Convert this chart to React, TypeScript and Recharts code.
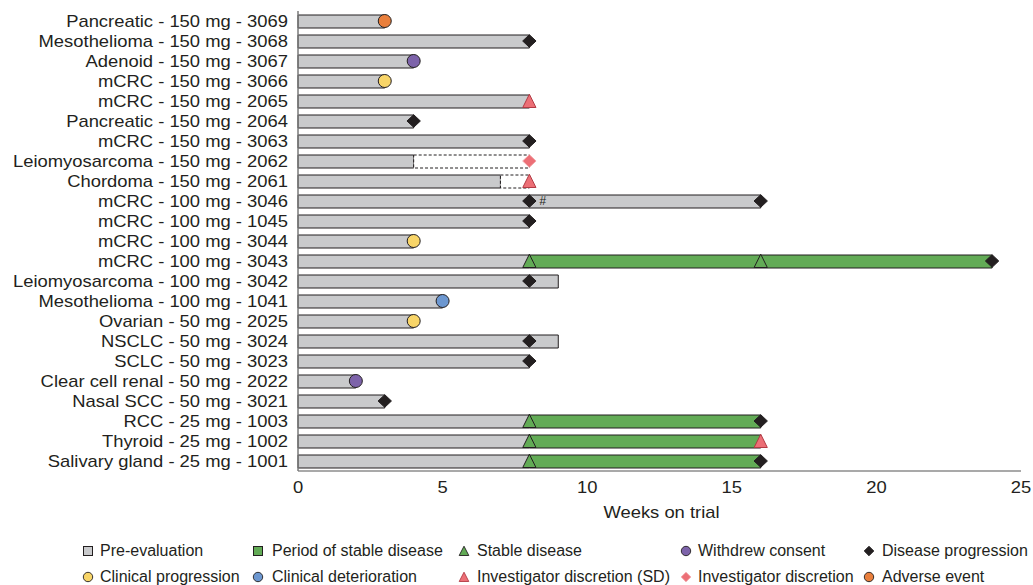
import React from 'react';
import { ComposedChart, Bar, Scatter, XAxis, YAxis } from 'recharts';

const N = null;

const patients = [
  'Pancreatic - 150 mg - 3069', 'Mesothelioma - 150 mg - 3068', 'Adenoid - 150 mg - 3067',
  'mCRC - 150 mg - 3066', 'mCRC - 150 mg - 2065', 'Pancreatic - 150 mg - 2064',
  'mCRC - 150 mg - 3063', 'Leiomyosarcoma - 150 mg - 2062', 'Chordoma - 150 mg - 2061',
  'mCRC - 100 mg - 3046', 'mCRC - 100 mg - 1045', 'mCRC - 100 mg - 3044',
  'mCRC - 100 mg - 3043', 'Leiomyosarcoma - 100 mg - 3042', 'Mesothelioma - 100 mg - 1041',
  'Ovarian - 50 mg - 2025', 'NSCLC - 50 mg - 3024', 'SCLC - 50 mg - 3023',
  'Clear cell renal - 50 mg - 2022', 'Nasal SCC - 50 mg - 3021', 'RCC - 25 mg - 1003',
  'Thyroid - 25 mg - 1002', 'Salivary gland - 25 mg - 1001',
];

const preEvaluation = [3, 8, 4, 3, 8, 4, 8, 4, 7, 16, 8, 4, 8, 9, 5, 4, 9, 8, 2, 3, 8, 8, 8];
const unconfirmedExtension = [0, 0, 0, 0, 0, 0, 0, 4, 1, 0, 0, 0, 0, 0, 0, 0, 0, 0, 0, 0, 0, 0, 0];
const stableDiseasePeriod = [0, 0, 0, 0, 0, 0, 0, 0, 0, 0, 0, 0, 16, 0, 0, 0, 0, 0, 0, 0, 8, 8, 8];

const stableDisease1 = [N, N, N, N, N, N, N, N, N, N, N, N, 8, N, N, N, N, N, N, N, 8, 8, 8];
const stableDisease2 = [N, N, N, N, N, N, N, N, N, N, N, N, 16, N, N, N, N, N, N, N, N, N, N];
const diseaseProgression1 = [N, 8, N, N, N, 4, 8, N, N, 8, 8, N, 24, 8, N, N, 8, 8, N, 3, 16, N, 16];
const diseaseProgression2 = [N, N, N, N, N, N, N, N, N, 16, N, N, N, N, N, N, N, N, N, N, N, N, N];
const withdrewConsent = [N, N, 4, N, N, N, N, N, N, N, N, N, N, N, N, N, N, N, 2, N, N, N, N];
const clinicalProgression = [N, N, N, 3, N, N, N, N, N, N, N, 4, N, N, N, 4, N, N, N, N, N, N, N];
const clinicalDeterioration = [N, N, N, N, N, N, N, N, N, N, N, N, N, N, 5, N, N, N, N, N, N, N, N];
const investigatorSD = [N, N, N, N, 8, N, N, N, 8, N, N, N, N, N, N, N, N, N, N, N, N, 16, N];
const investigatorDiscretion = [N, N, N, N, N, N, N, 8, N, N, N, N, N, N, N, N, N, N, N, N, N, N, N];
const adverseEvent = [3, N, N, N, N, N, N, N, N, N, N, N, N, N, N, N, N, N, N, N, N, N, N];
const notes = ['', '', '', '', '', '', '', '', '', '#', '', '', '', '', '', '', '', '', '', '', '', '', ''];

const xTicks = [0, 5, 10, 15, 20, 25];

const data = patients.map((name, i) => ({
  name,
  pre: preEvaluation[i],
  unconfirmed: unconfirmedExtension[i],
  stable: stableDiseasePeriod[i],
  sd1: stableDisease1[i],
  sd2: stableDisease2[i],
  dp1: diseaseProgression1[i],
  dp2: diseaseProgression2[i],
  wc: withdrewConsent[i],
  cp: clinicalProgression[i],
  cd: clinicalDeterioration[i],
  isd: investigatorSD[i],
  idd: investigatorDiscretion[i],
  ae: adverseEvent[i],
  note: notes[i],
}));

const FONT = '"Liberation Sans", Arial, Helvetica, sans-serif';
const INK = '#231f20';
const GREY = '#c9cacc';
const GREEN = '#62ab56';
const RED = '#ec6f76';
const C_PURPLE = '#7d63aa';
const C_YELLOW = '#f8d568';
const C_BLUE = '#6c97d0';
const C_ORANGE = '#e97f3c';

const ok = (v: any) => typeof v === 'number' && !isNaN(v);

const circleShape = (fill: string) => (props: any) => {
  const { cx, cy } = props;
  if (!ok(cx) || !ok(cy)) return <g />;
  return <circle cx={cx} cy={cy} r={6.5} fill={fill} stroke={INK} strokeWidth={1} />;
};

const diamondShape = (fill: string, stroke: string, showNote: boolean) => (props: any) => {
  const { cx, cy, payload } = props;
  if (!ok(cx) || !ok(cy)) return <g />;
  const w = 6.7;
  const h = 6.3;
  return (
    <g>
      <path d={`M${cx},${cy - h}L${cx + w},${cy}L${cx},${cy + h}L${cx - w},${cy}Z`} fill={fill} stroke={stroke} strokeWidth={1} />
      {showNote && payload && payload.note ? (
        <text x={cx + 10} y={cy} dy="0.35em" fontSize={12} fontStyle="italic" fontFamily={FONT} fill={INK}>
          {payload.note}
        </text>
      ) : null}
    </g>
  );
};

const triangleShape = (fill: string, stroke: string) => (props: any) => {
  const { cx, cy } = props;
  if (!ok(cx) || !ok(cy)) return <g />;
  const w = 6.6;
  return (
    <path d={`M${cx},${cy - 6.8}L${cx + w},${cy + 6.5}L${cx - w},${cy + 6.5}Z`} fill={fill} stroke={stroke} strokeWidth={1} />
  );
};

const YTick = (props: any) => {
  const { x, y, payload } = props;
  return (
    <g transform={`translate(${x},${y})`}>
      <text transform="scale(1.15,1)" textAnchor="end" dy="0.355em" fontSize={16} fontFamily={FONT} fill={INK}>
        {payload.value}
      </text>
    </g>
  );
};

const XTick = (props: any) => {
  const { x, y, payload } = props;
  return (
    <g transform={`translate(${x},${y})`}>
      <text transform="scale(1.15,1)" textAnchor="middle" dy="0.355em" fontSize={16} fontFamily={FONT} fill={INK}>
        {payload.value}
      </text>
    </g>
  );
};

const XLabel = (props: any) => {
  const vb = props.viewBox || { x: 298, y: 471, width: 723, height: 60 };
  const cx = vb.x + vb.width / 2 + 2;
  const cy = vb.y + 41;
  return (
    <g transform={`translate(${cx},${cy})`}>
      <text transform="scale(1.15,1)" textAnchor="middle" dy="0.355em" fontSize={16} fontFamily={FONT} fill={INK}>
        Weeks on trial
      </text>
    </g>
  );
};

type LegendItem = { label: string; icon: React.ReactNode; iconX: number; textX: number; y: number };

const sq = (fill: string) => (
  <svg width={12} height={12}><rect x={1.5} y={1.5} width={9} height={9} fill={fill} stroke={INK} strokeWidth={1} /></svg>
);
const circ = (fill: string) => (
  <svg width={12} height={12}><circle cx={6} cy={6} r={4.7} fill={fill} stroke={INK} strokeWidth={0.9} /></svg>
);
const tri = (fill: string, stroke: string) => (
  <svg width={12} height={12}><path d="M6,1.2L10.8,10.5L1.2,10.5Z" fill={fill} stroke={stroke} strokeWidth={0.9} /></svg>
);
const dia = (fill: string, stroke: string) => (
  <svg width={12} height={12}><path d="M6,1.2L10.8,6L6,10.8L1.2,6Z" fill={fill} stroke={stroke} strokeWidth={0.9} /></svg>
);

const legendItems: LegendItem[] = [
  { label: 'Pre-evaluation', icon: sq(GREY), iconX: 88, textX: 100, y: 551 },
  { label: 'Period of stable disease', icon: sq(GREEN), iconX: 258, textX: 272, y: 551 },
  { label: 'Stable disease', icon: tri(GREEN, INK), iconX: 464, textX: 477, y: 551 },
  { label: 'Withdrew consent', icon: circ(C_PURPLE), iconX: 686, textX: 698, y: 551 },
  { label: 'Disease progression', icon: dia(INK, INK), iconX: 869, textX: 882, y: 551 },
  { label: 'Clinical progression', icon: circ(C_YELLOW), iconX: 88, textX: 100, y: 577 },
  { label: 'Clinical deterioration', icon: circ(C_BLUE), iconX: 258, textX: 272, y: 577 },
  { label: 'Investigator discretion (SD)', icon: tri(RED, '#b23a44'), iconX: 464, textX: 477, y: 577 },
  { label: 'Investigator discretion', icon: dia(RED, '#f2a5a9'), iconX: 686, textX: 698, y: 577 },
  { label: 'Adverse event', icon: circ(C_ORANGE), iconX: 869, textX: 882, y: 577 },
];

export default function App() {
  return (
    <div style={{ position: 'absolute', left: 0, top: 0, width: 1033, height: 585, background: '#fff', fontFamily: FONT }}>
      <ComposedChart
        width={1033}
        height={585}
        data={data}
        layout="vertical"
        margin={{ top: 11, right: 12, bottom: 54, left: 0 }}
      >
        <XAxis
          type="number"
          domain={[0, 25]}
          ticks={xTicks}
          allowDecimals={false}
          tickLine={false}
          tickSize={0}
          tickMargin={16}
          height={60}
          axisLine={{ stroke: '#8c8c8c', strokeWidth: 1.5 }}
          tick={<XTick />}
          label={<XLabel />}
        />
        <YAxis
          type="category"
          dataKey="name"
          width={298}
          tickLine={false}
          tickSize={0}
          tickMargin={10}
          interval={0}
          allowDuplicatedCategory={false}
          axisLine={{ stroke: '#7a7a7a', strokeWidth: 1.5 }}
          tick={<YTick />}
        />
        <Bar dataKey="pre" stackId="a" barSize={13} fill={GREY} stroke={INK} strokeWidth={1} isAnimationActive={false} />
        <Bar dataKey="unconfirmed" stackId="a" barSize={13} fill="#ffffff" stroke={INK} strokeWidth={1} strokeDasharray="3 2" isAnimationActive={false} />
        <Bar dataKey="stable" stackId="a" barSize={13} fill={GREEN} stroke={INK} strokeWidth={1} isAnimationActive={false} />
        <Scatter dataKey="sd1" shape={triangleShape(GREEN, INK)} isAnimationActive={false} />
        <Scatter dataKey="sd2" shape={triangleShape(GREEN, INK)} isAnimationActive={false} />
        <Scatter dataKey="dp1" shape={diamondShape(INK, INK, true)} isAnimationActive={false} />
        <Scatter dataKey="dp2" shape={diamondShape(INK, INK, false)} isAnimationActive={false} />
        <Scatter dataKey="wc" shape={circleShape(C_PURPLE)} isAnimationActive={false} />
        <Scatter dataKey="cp" shape={circleShape(C_YELLOW)} isAnimationActive={false} />
        <Scatter dataKey="cd" shape={circleShape(C_BLUE)} isAnimationActive={false} />
        <Scatter dataKey="isd" shape={triangleShape(RED, '#b23a44')} isAnimationActive={false} />
        <Scatter dataKey="idd" shape={diamondShape(RED, '#f2a5a9', false)} isAnimationActive={false} />
        <Scatter dataKey="ae" shape={circleShape(C_ORANGE)} isAnimationActive={false} />
      </ComposedChart>
      {legendItems.map((it) => (
        <React.Fragment key={it.label}>
          <div style={{ position: 'absolute', left: it.iconX - 6, top: it.y - 6, width: 12, height: 12, lineHeight: 0 }}>
            {it.icon}
          </div>
          <div style={{ position: 'absolute', left: it.textX, top: it.y - 10, height: 20, lineHeight: '20px', fontSize: 16, color: INK, whiteSpace: 'nowrap' }}>
            {it.label}
          </div>
        </React.Fragment>
      ))}
    </div>
  );
}
